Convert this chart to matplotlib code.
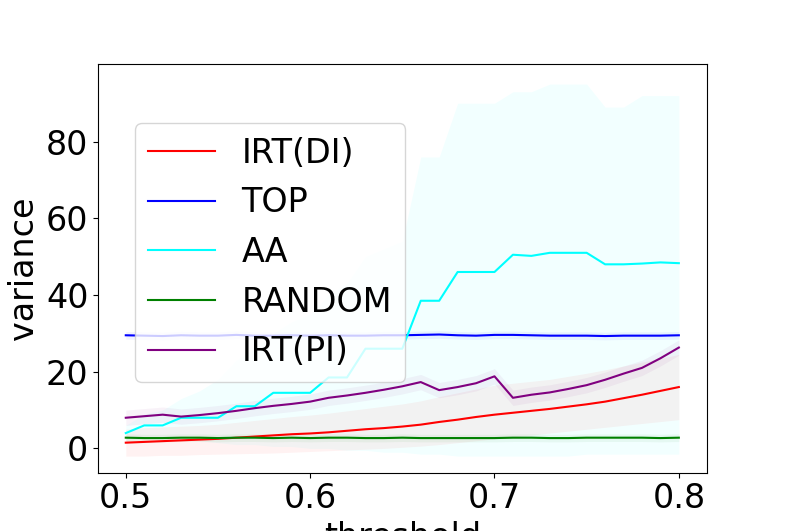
import numpy as np
import matplotlib
matplotlib.use("Agg")
import matplotlib.pyplot as plt

x = np.round(np.arange(0.50, 0.801, 0.01), 2)

irt_di = [1.5, 1.7, 1.9, 2.1, 2.3, 2.5, 2.8, 3.1, 3.4, 3.7, 3.9, 4.2, 4.6, 5.0, 5.3, 5.7,
          6.2, 6.9, 7.5, 8.2, 8.8, 9.3, 9.8, 10.3, 10.9, 11.5, 12.2, 13.1, 14.0, 15.0, 16.0]
irt_di_lo = [-2.0, -2.0, -1.8, -1.8, -1.6, -1.5, -1.4, -1.3, -1.2, -1.0, -0.8, -0.6, -0.4, -0.2, 0.0, 0.3,
             0.6, 1.0, 1.5, 2.0, 2.5, 3.0, 3.5, 4.0, 4.5, 5.0, 5.5, 6.0, 6.5, 7.0, 7.5]
irt_di_hi = [5.0, 5.4, 5.6, 5.8, 6.0, 6.3, 6.8, 7.3, 7.8, 8.3, 8.7, 9.2, 9.8, 10.4, 11.0, 11.6,
             12.4, 13.5, 14.5, 15.5, 16.5, 17.0, 17.5, 18.0, 18.8, 19.6, 20.5, 21.5, 22.5, 23.5, 24.5]

top = [29.5, 29.4, 29.3, 29.5, 29.4, 29.4, 29.6, 29.4, 29.4, 29.5, 29.4, 29.5, 29.4, 29.4, 29.5, 29.5,
       29.6, 29.7, 29.5, 29.4, 29.6, 29.6, 29.5, 29.4, 29.4, 29.4, 29.3, 29.4, 29.4, 29.4, 29.5]

aa = [4.0, 6.0, 6.0, 8.0, 8.0, 8.0, 11.0, 11.0, 14.5, 14.5, 14.5, 18.5, 18.5, 26.0, 26.0, 26.0,
      38.5, 38.5, 46.0, 46.0, 46.0, 50.5, 50.2, 51.0, 51.0, 51.0, 48.0, 48.0, 48.2, 48.5, 48.3]
aa_lo = [2.0, 2.5, 2.5, 2.5, 2.0, 1.5, 1.0, 1.0, 0.5, 0.5, 0.0, 0.0, -0.5, -0.5, -1.0, -1.0,
         -1.5, -1.5, -2.0, -2.0, -2.0, -2.0, -2.0, -2.0, -2.0, -1.5, -1.5, -1.5, -1.5, -1.5, -1.5]
aa_hi = [6.0, 9.0, 10.0, 13.0, 15.0, 18.0, 23.0, 26.0, 30.0, 33.0, 35.0, 40.0, 43.0, 50.0, 52.0, 54.0,
         76.0, 76.0, 90.0, 90.0, 90.0, 93.0, 93.0, 95.0, 95.0, 95.0, 89.0, 89.0, 92.0, 92.0, 92.0]

random = [2.8, 2.7, 2.7, 2.8, 2.8, 2.7, 2.8, 2.8, 2.7, 2.8, 2.7, 2.8, 2.8, 2.7, 2.7, 2.8,
          2.7, 2.7, 2.7, 2.7, 2.7, 2.8, 2.8, 2.7, 2.7, 2.8, 2.8, 2.8, 2.8, 2.7, 2.8]

irt_pi = [8.0, 8.4, 8.8, 8.3, 8.7, 9.2, 9.8, 10.5, 11.1, 11.6, 12.2, 13.2, 13.8, 14.5, 15.3, 16.2,
          17.3, 15.2, 16.0, 17.0, 18.8, 13.2, 14.0, 14.6, 15.5, 16.5, 17.9, 19.5, 21.0, 23.5, 26.3]

plt.figure(figsize=(7.85, 5.31))
series = [("IRT(DI)", "red", irt_di, irt_di_lo, irt_di_hi),
          ("TOP", "blue", top, [v - 1 for v in top], [v + 1 for v in top]),
          ("AA", "cyan", aa, aa_lo, aa_hi),
          ("RANDOM", "green", random, [v - 1 for v in random], [v + 1 for v in random]),
          ("IRT(PI)", "purple", irt_pi, [v - 2 for v in irt_pi], [v + 2 for v in irt_pi])]
for name, c, y, lo, hi in series:
    plt.plot(x, y, color=c, label=name)
    plt.fill_between(x, lo, hi, color=c, alpha=0.05, linewidth=0)

plt.xlabel("threshold", fontsize=24)
plt.ylabel("variance", fontsize=24)
plt.xticks([0.5, 0.6, 0.7, 0.8], fontsize=24)
plt.yticks([0, 20, 40, 60, 80], fontsize=24)
plt.ylim(-6.3, 100.3)
plt.legend(fontsize=24, loc="upper left", bbox_to_anchor=(0.033, 0.895))
plt.savefig("out.png")
